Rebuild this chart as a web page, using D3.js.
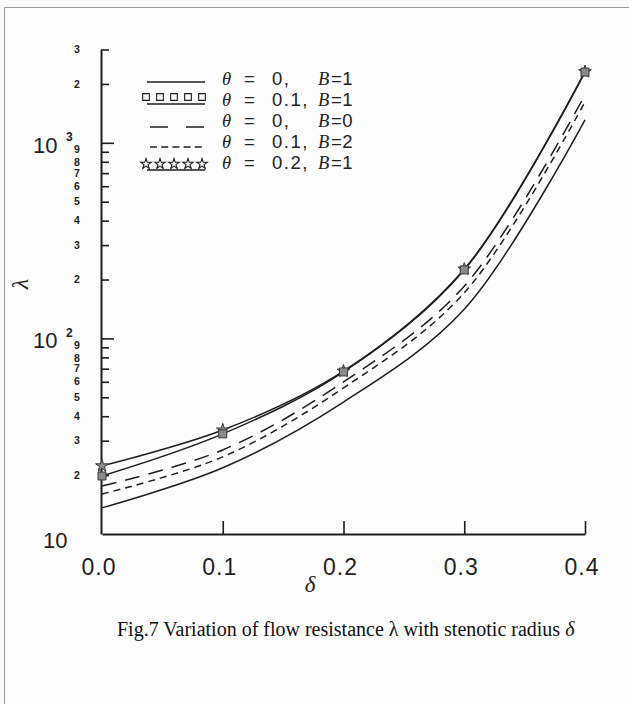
<!DOCTYPE html>
<html lang="en">
<head>
<meta charset="UTF-8">
<title>Flow resistance vs stenotic radius</title>
<script src="https://d3js.org/d3.v7.min.js"></script>
<style>
  body { margin: 0; background: #fcfcfc; }
  svg { display: block; }
  .num { font-family: "Liberation Sans", Arial, sans-serif; fill: #222; }
  .sym { font-family: "Liberation Serif", "Times New Roman", serif; font-style: italic; fill: #222; }
</style>
</head>
<body>
<div id="chart"></div>
<script>
  // stenotic radius delta (x)
  const delta = [0, 0.1, 0.2, 0.3, 0.4];

  // flow resistance lambda for each case
  const lamT0B1  = [13.6, 21.8, 47.3, 141, 1310];   // theta=0,   B=1
  const lamT01B1 = [19.8, 32.5, 67.4, 224, 2300];   // theta=0.1, B=1
  const lamT0B0  = [17.6, 26.9, 59.9, 185, 1760];   // theta=0,   B=0
  const lamT01B2 = [16.0, 24.8, 55.8, 171, 1620];   // theta=0.1, B=2
  const lamT02B1 = [22.3, 34.0, 68.0, 226, 2310];   // theta=0.2, B=1

  // legend text
  const thetaLabels = ["0", "0.1", "0", "0.1", "0.2"];
  const bLabels = ["1", "1", "0", "2", "1"];

  // tick values / labels
  const xTicks = [0.1, 0.2, 0.3, 0.4];
  const xTickLabels = ["0.0", "0.1", "0.2", "0.3", "0.4"];
  const yDecades = [10, 100, 1000];
  const yDecadeExp = ["", "2", "3"];
  const yMinor = [20, 30, 40, 50, 60, 70, 80, 90,
                  200, 300, 400, 500, 600, 700, 800, 900,
                  2000, 3000];

  const width = 629, height = 704;
  const ink = "#1e1e1e";

  const svg = d3.select("#chart").append("svg")
    .attr("width", width).attr("height", height);

  // page frame
  svg.append("path")
    .attr("d", "M4.5,704 V7.5 H629")
    .attr("fill", "none").attr("stroke", "#9a9a9a").attr("stroke-width", 1);

  // scales
  const x = d3.scaleLinear().domain([0, 0.4]).range([102, 585]);
  const y = d3.scaleLog().domain([10, 3000]).range([534, 49.5]);

  // y axis (ticks point inward)
  const yMajorAxis = d3.axisRight(y).tickValues(yDecades.slice(1)).tickSize(13)
    .tickSizeOuter(0).tickFormat("");
  const yMinorAxis = d3.axisRight(y).tickValues(yMinor).tickSize(8)
    .tickSizeOuter(0).tickFormat("");
  const gy = svg.append("g").attr("transform", "translate(101,0)");
  gy.call(yMinorAxis);
  gy.append("g").call(yMajorAxis).select(".domain").remove();
  gy.selectAll("path, line").attr("stroke", ink).attr("stroke-width", 1.6);
  gy.select(".domain").attr("stroke-width", 2);

  // x axis (ticks point up)
  const xAxis = d3.axisTop(x).tickValues(xTicks).tickSize(13)
    .tickSizeOuter(0).tickFormat("");
  const gx = svg.append("g").attr("transform", "translate(0,534)").call(xAxis);
  gx.selectAll("path, line").attr("stroke", ink).attr("stroke-width", 1.6);
  gx.select(".domain").attr("stroke-width", 2);

  // x tick labels
  svg.selectAll(".xlab")
    .data([0].concat(xTicks))
    .enter().append("text")
    .attr("class", "num")
    .attr("x", d => x(d) - 3)
    .attr("y", 567)
    .attr("dy", "0.35em")
    .attr("text-anchor", "middle")
    .attr("font-size", 23)
    .attr("letter-spacing", 1)
    .text((d, i) => xTickLabels[i]);

  // y decade labels
  yDecades.forEach((d, i) => {
    svg.append("text").attr("class", "num")
      .attr("x", i === 0 ? 43 : 33)
      .attr("y", y(d) + (i === 0 ? 6 : 2))
      .attr("dy", "0.35em")
      .attr("font-size", 22)
      .text("10");
    if (yDecadeExp[i]) {
      svg.append("text").attr("class", "num")
        .attr("x", 66).attr("y", y(d) - 6)
        .attr("dy", "0.35em")
        .attr("font-size", 12).attr("font-weight", "bold")
        .text(yDecadeExp[i]);
    }
  });

  // y minor labels (leading digit); the crowded 9s nudged up a little
  const lead = d => Math.round(d / Math.pow(10, Math.floor(Math.log10(d) + 1e-9)));
  svg.selectAll(".ymin")
    .data(yMinor)
    .enter().append("text")
    .attr("class", "num")
    .attr("x", 77)
    .attr("y", d => y(d) + (lead(d) === 9 ? -2 : lead(d) === 8 ? 0.5 : 0))
    .attr("dy", "0.35em")
    .attr("text-anchor", "middle")
    .attr("font-size", 10.5)
    .attr("font-weight", "bold")
    .text(d => String(lead(d)));

  // axis titles
  svg.append("text").attr("class", "sym")
    .attr("x", 310).attr("y", 592)
    .attr("text-anchor", "middle").attr("font-size", 23)
    .text("δ");
  svg.append("text").attr("class", "sym")
    .attr("transform", "translate(20,284) rotate(-90)")
    .attr("text-anchor", "middle").attr("dy", "0.35em").attr("font-size", 24)
    .attr("font-style", "normal")
    .text("λ");

  // series
  const series = [
    { values: lamT0B1,  dash: null,   marker: null },
    { values: lamT01B1, dash: null,   marker: d3.symbolSquare },
    { values: lamT0B0,  dash: "15,9", marker: null },
    { values: lamT01B2, dash: "7,5",  marker: null },
    { values: lamT02B1, dash: null,   marker: d3.symbolStar }
  ];

  const line = d3.line()
    .x((d, i) => x(delta[i]))
    .y(d => y(d))
    .curve(d3.curveCatmullRom.alpha(0.5));

  series.forEach(s => {
    svg.append("path")
      .datum(s.values)
      .attr("d", line)
      .attr("fill", "none")
      .attr("stroke", ink)
      .attr("stroke-width", 1.5)
      .attr("stroke-dasharray", s.dash);
  });

  // markers (stars first so squares sit on top)
  [series[4], series[1]].forEach(s => {
    svg.selectAll(null)
      .data(s.values)
      .enter().append("path")
      .attr("transform", (d, i) => `translate(${x(delta[i])},${y(d)})`)
      .attr("d", d3.symbol().type(s.marker).size(s.marker === d3.symbolStar ? 50 : 64))
      .attr("fill", "#8a8a8a")
      .attr("stroke", "#3a3a3a")
      .attr("stroke-width", 1);
  });

  // legend
  const legTextY = [79, 100, 121, 142, 163];
  const legLineY = [82, 104, 127, 147, 170];
  const legSymY = [0, 97, 0, 0, 164];
  const legSymX = [146, 160, 174, 188, 202];

  series.forEach((s, i) => {
    svg.append("line")
      .attr("x1", i === 2 || i === 3 ? 150 : 147).attr("x2", 205)
      .attr("y1", legLineY[i]).attr("y2", legLineY[i])
      .attr("stroke", ink).attr("stroke-width", 1.6)
      .attr("stroke-dasharray", i === 2 ? "18,18" : i === 3 ? "7,4.2" : null);
    if (s.marker) {
      svg.selectAll(null)
        .data(legSymX)
        .enter().append("path")
        .attr("transform", d => `translate(${d},${legSymY[i]})`)
        .attr("d", d3.symbol().type(s.marker).size(s.marker === d3.symbolStar ? 34 : 45))
        .attr("fill", "none")
        .attr("stroke", ink)
        .attr("stroke-width", 1.1);
    }

    // one text per row, parts positioned with tspans
    const t = svg.append("text")
      .attr("y", legTextY[i]).attr("dy", "0.35em")
      .attr("font-size", 18.5).attr("fill", "#222");
    t.append("tspan").attr("class", "sym").attr("x", 222).text("θ");
    t.append("tspan").attr("class", "num").attr("x", 244).text("=");
    const val = t.append("tspan").attr("class", "num").attr("x", 272)
      .attr("letter-spacing", 1.5).text(thetaLabels[i] + ",");
    const bx = Math.max(318, 272 + val.node().getComputedTextLength() + 1);
    t.append("tspan").attr("class", "sym").attr("x", bx).attr("letter-spacing", 0).text("B");
    t.append("tspan").attr("class", "num").attr("x", bx + 13).attr("letter-spacing", 0.5)
      .text("=" + bLabels[i]);
  });

  // caption
  const cap = svg.append("text")
    .attr("x", 117).attr("y", 636)
    .attr("font-family", "'Liberation Serif', 'Times New Roman', serif")
    .attr("font-size", 20).attr("fill", "#111");
  cap.append("tspan").text("Fig.7 Variation of flow resistance λ with stenotic radius ");
  cap.append("tspan").attr("font-style", "italic").text("δ");
</script>
</body>
</html>
